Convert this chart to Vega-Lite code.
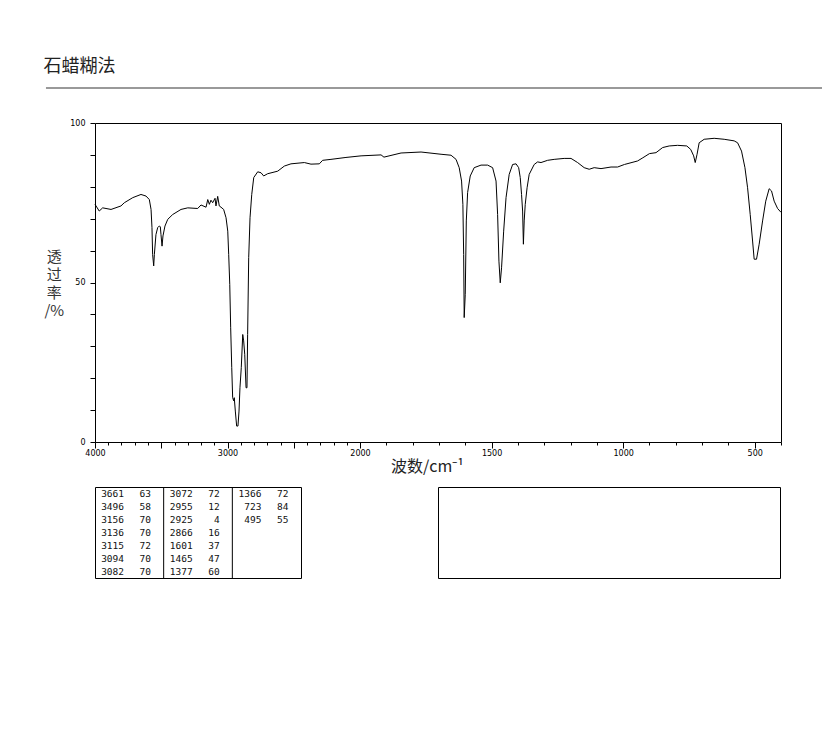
{
  "$schema": "https://vega.github.io/schema/vega-lite/v6.json",
  "background": "white",
  "padding": {"left": 43, "top": 58, "right": 0, "bottom": 0},
  "title": {"text": "石蜡糊法", "anchor": "start", "frame": "bounds", "fontSize": 18, "fontWeight": "normal", "font": "Noto Sans CJK SC", "color": "#222", "offset": 10},
  "config": {
    "view": {"stroke": "black", "strokeWidth": 1},
    "font": "DejaVu Sans",
    "axis": {"grid": false, "domain": false, "tickColor": "black", "labelColor": "black", "labelFontSize": 8, "labelFlush": false, "labelOverlap": false}
  },
  "spacing": 11,
  "vconcat": [
    {
      "width": 686,
      "height": 319,
      "layer": [
        {
          "data": {"values": [
            {"wavenumber": 4000, "transmittance": 74.5},
            {"wavenumber": 3968, "transmittance": 72.4},
            {"wavenumber": 3942, "transmittance": 73.4},
            {"wavenumber": 3879, "transmittance": 72.9},
            {"wavenumber": 3804, "transmittance": 74.0},
            {"wavenumber": 3779, "transmittance": 75.0},
            {"wavenumber": 3715, "transmittance": 76.6},
            {"wavenumber": 3653, "transmittance": 77.6},
            {"wavenumber": 3615, "transmittance": 77.1},
            {"wavenumber": 3590, "transmittance": 76.0},
            {"wavenumber": 3577, "transmittance": 72.9},
            {"wavenumber": 3570, "transmittance": 67.2},
            {"wavenumber": 3565, "transmittance": 58.8},
            {"wavenumber": 3557, "transmittance": 55.2},
            {"wavenumber": 3552, "transmittance": 58.8},
            {"wavenumber": 3540, "transmittance": 65.0},
            {"wavenumber": 3527, "transmittance": 67.2},
            {"wavenumber": 3515, "transmittance": 67.7},
            {"wavenumber": 3507, "transmittance": 67.5},
            {"wavenumber": 3502, "transmittance": 65.0},
            {"wavenumber": 3494, "transmittance": 61.4},
            {"wavenumber": 3487, "transmittance": 64.6},
            {"wavenumber": 3472, "transmittance": 67.7},
            {"wavenumber": 3451, "transmittance": 69.8},
            {"wavenumber": 3414, "transmittance": 71.3},
            {"wavenumber": 3351, "transmittance": 72.9},
            {"wavenumber": 3300, "transmittance": 73.4},
            {"wavenumber": 3225, "transmittance": 73.2},
            {"wavenumber": 3200, "transmittance": 74.3},
            {"wavenumber": 3162, "transmittance": 73.6},
            {"wavenumber": 3149, "transmittance": 76.0},
            {"wavenumber": 3137, "transmittance": 74.5},
            {"wavenumber": 3125, "transmittance": 75.8},
            {"wavenumber": 3112, "transmittance": 75.0},
            {"wavenumber": 3094, "transmittance": 76.4},
            {"wavenumber": 3087, "transmittance": 74.0},
            {"wavenumber": 3074, "transmittance": 77.0},
            {"wavenumber": 3062, "transmittance": 74.0},
            {"wavenumber": 3049, "transmittance": 73.6},
            {"wavenumber": 3029, "transmittance": 72.9},
            {"wavenumber": 3011, "transmittance": 70.3},
            {"wavenumber": 2998, "transmittance": 66.1},
            {"wavenumber": 2991, "transmittance": 58.8},
            {"wavenumber": 2983, "transmittance": 49.4},
            {"wavenumber": 2976, "transmittance": 35.8},
            {"wavenumber": 2968, "transmittance": 23.3},
            {"wavenumber": 2961, "transmittance": 13.9},
            {"wavenumber": 2953, "transmittance": 12.9},
            {"wavenumber": 2949, "transmittance": 13.9},
            {"wavenumber": 2941, "transmittance": 9.7},
            {"wavenumber": 2931, "transmittance": 5.0},
            {"wavenumber": 2921, "transmittance": 5.0},
            {"wavenumber": 2913, "transmittance": 9.7},
            {"wavenumber": 2906, "transmittance": 17.0},
            {"wavenumber": 2896, "transmittance": 23.3},
            {"wavenumber": 2885, "transmittance": 33.7},
            {"wavenumber": 2878, "transmittance": 31.7},
            {"wavenumber": 2870, "transmittance": 27.5},
            {"wavenumber": 2860, "transmittance": 17.0},
            {"wavenumber": 2853, "transmittance": 17.0},
            {"wavenumber": 2848, "transmittance": 33.7},
            {"wavenumber": 2840, "transmittance": 57.8},
            {"wavenumber": 2830, "transmittance": 70.3},
            {"wavenumber": 2817, "transmittance": 77.6},
            {"wavenumber": 2802, "transmittance": 82.9},
            {"wavenumber": 2772, "transmittance": 84.7},
            {"wavenumber": 2747, "transmittance": 84.4},
            {"wavenumber": 2727, "transmittance": 83.4},
            {"wavenumber": 2697, "transmittance": 84.1},
            {"wavenumber": 2621, "transmittance": 84.9},
            {"wavenumber": 2571, "transmittance": 86.5},
            {"wavenumber": 2521, "transmittance": 87.2},
            {"wavenumber": 2420, "transmittance": 87.6},
            {"wavenumber": 2370, "transmittance": 87.1},
            {"wavenumber": 2307, "transmittance": 87.2},
            {"wavenumber": 2282, "transmittance": 88.3},
            {"wavenumber": 2219, "transmittance": 88.6},
            {"wavenumber": 2106, "transmittance": 89.2},
            {"wavenumber": 1996, "transmittance": 89.7},
            {"wavenumber": 1920, "transmittance": 90.0},
            {"wavenumber": 1909, "transmittance": 89.3},
            {"wavenumber": 1844, "transmittance": 90.6},
            {"wavenumber": 1768, "transmittance": 90.9},
            {"wavenumber": 1692, "transmittance": 90.2},
            {"wavenumber": 1654, "transmittance": 89.9},
            {"wavenumber": 1635, "transmittance": 88.6},
            {"wavenumber": 1623, "transmittance": 86.0},
            {"wavenumber": 1614, "transmittance": 81.8},
            {"wavenumber": 1609, "transmittance": 74.5},
            {"wavenumber": 1606, "transmittance": 58.8},
            {"wavenumber": 1604, "transmittance": 39.0},
            {"wavenumber": 1600, "transmittance": 46.3},
            {"wavenumber": 1596, "transmittance": 69.3},
            {"wavenumber": 1591, "transmittance": 78.2},
            {"wavenumber": 1581, "transmittance": 83.4},
            {"wavenumber": 1566, "transmittance": 86.0},
            {"wavenumber": 1540, "transmittance": 86.8},
            {"wavenumber": 1515, "transmittance": 86.8},
            {"wavenumber": 1496, "transmittance": 86.0},
            {"wavenumber": 1483, "transmittance": 81.8},
            {"wavenumber": 1477, "transmittance": 71.3},
            {"wavenumber": 1472, "transmittance": 56.7},
            {"wavenumber": 1467, "transmittance": 49.9},
            {"wavenumber": 1462, "transmittance": 54.6},
            {"wavenumber": 1454, "transmittance": 66.1},
            {"wavenumber": 1445, "transmittance": 76.6},
            {"wavenumber": 1433, "transmittance": 83.9},
            {"wavenumber": 1420, "transmittance": 87.0},
            {"wavenumber": 1407, "transmittance": 87.2},
            {"wavenumber": 1397, "transmittance": 86.0},
            {"wavenumber": 1391, "transmittance": 82.9},
            {"wavenumber": 1386, "transmittance": 77.6},
            {"wavenumber": 1382, "transmittance": 72.4},
            {"wavenumber": 1379, "transmittance": 62.0},
            {"wavenumber": 1376, "transmittance": 69.3},
            {"wavenumber": 1372, "transmittance": 74.5},
            {"wavenumber": 1365, "transmittance": 79.7},
            {"wavenumber": 1357, "transmittance": 83.9},
            {"wavenumber": 1338, "transmittance": 87.0},
            {"wavenumber": 1325, "transmittance": 87.8},
            {"wavenumber": 1312, "transmittance": 87.6},
            {"wavenumber": 1287, "transmittance": 88.3},
            {"wavenumber": 1262, "transmittance": 88.6},
            {"wavenumber": 1224, "transmittance": 88.9},
            {"wavenumber": 1198, "transmittance": 88.9},
            {"wavenumber": 1173, "transmittance": 87.6},
            {"wavenumber": 1148, "transmittance": 86.0},
            {"wavenumber": 1129, "transmittance": 85.5},
            {"wavenumber": 1110, "transmittance": 86.0},
            {"wavenumber": 1084, "transmittance": 85.7},
            {"wavenumber": 1046, "transmittance": 86.2},
            {"wavenumber": 1021, "transmittance": 86.2},
            {"wavenumber": 995, "transmittance": 87.0},
            {"wavenumber": 945, "transmittance": 88.1},
            {"wavenumber": 925, "transmittance": 89.1},
            {"wavenumber": 900, "transmittance": 90.4},
            {"wavenumber": 875, "transmittance": 90.7},
            {"wavenumber": 850, "transmittance": 92.3},
            {"wavenumber": 825, "transmittance": 92.8},
            {"wavenumber": 793, "transmittance": 93.0},
            {"wavenumber": 758, "transmittance": 92.8},
            {"wavenumber": 743, "transmittance": 91.7},
            {"wavenumber": 732, "transmittance": 89.7},
            {"wavenumber": 726, "transmittance": 87.6},
            {"wavenumber": 719, "transmittance": 90.2},
            {"wavenumber": 711, "transmittance": 93.8},
            {"wavenumber": 692, "transmittance": 94.9},
            {"wavenumber": 654, "transmittance": 95.2},
            {"wavenumber": 616, "transmittance": 94.9},
            {"wavenumber": 578, "transmittance": 94.4},
            {"wavenumber": 565, "transmittance": 93.8},
            {"wavenumber": 550, "transmittance": 91.2},
            {"wavenumber": 537, "transmittance": 86.0},
            {"wavenumber": 527, "transmittance": 79.7},
            {"wavenumber": 517, "transmittance": 71.3},
            {"wavenumber": 508, "transmittance": 63.0},
            {"wavenumber": 502, "transmittance": 57.3},
            {"wavenumber": 493, "transmittance": 57.3},
            {"wavenumber": 483, "transmittance": 62.0},
            {"wavenumber": 470, "transmittance": 69.3},
            {"wavenumber": 458, "transmittance": 75.5},
            {"wavenumber": 445, "transmittance": 79.4},
            {"wavenumber": 436, "transmittance": 78.7},
            {"wavenumber": 426, "transmittance": 75.5},
            {"wavenumber": 413, "transmittance": 73.2},
            {"wavenumber": 400, "transmittance": 72.0}
          ]},
          "mark": {"type": "line", "color": "black", "strokeWidth": 1, "interpolate": "linear"},
          "encoding": {
            "x": {
              "field": "wavenumber", "type": "quantitative",
              "scale": {"domain": [4000, 2000, 400], "range": [0, 265, 686], "nice": false, "zero": false},
              "axis": {
                "orient": "bottom",
                "values": [4000, 3500, 3000, 2500, 2000, 1500, 1000, 500],
                "format": "d",
                "labelExpr": "datum.value == 3500 || datum.value == 2500 ? '' : datum.label",
                "tickSize": 6, "labelPadding": 1,
                "title": "波数/cm⁻¹", "titleFont": "Noto Sans CJK SC", "titleFontSize": 16, "titleFontWeight": "normal", "titleColor": "#222", "titlePadding": 1, "titleX": 332
              }
            },
            "y": {
              "field": "transmittance", "type": "quantitative",
              "scale": {"domain": [0, 100], "nice": false, "zero": false},
              "axis": {
                "orient": "left",
                "values": [0, 10, 20, 30, 40, 50, 60, 70, 80, 90, 100],
                "format": "d",
                "labelExpr": "datum.value % 50 === 0 ? datum.label : ''",
                "tickSize": 5, "labelPadding": 5,
                "title": ["透", "过", "率", "/%"], "titleAngle": 0, "titleAlign": "center", "titleBaseline": "middle",
                "titleFont": "Noto Sans CJK SC", "titleFontSize": 15, "titleFontWeight": "normal", "titleColor": "#333", "titleLineHeight": 18, "titlePadding": -38, "titleY": 133
              }
            }
          }
        },
        {
          "data": {"values": [{}]},
          "mark": {"type": "rule", "color": "#999", "strokeWidth": 2},
          "encoding": {
            "x": {
              "datum": 4370, "type": "quantitative",
              "scale": {"domain": [4000, 2000, 400], "range": [0, 265, 686], "nice": false, "zero": false},
              "axis": {
                "orient": "bottom",
                "values": [4000, 3900, 3800, 3700, 3600, 3500, 3400, 3300, 3200, 3100, 3000, 2900, 2800, 2700, 2600, 2500, 2400, 2300, 2200, 2100, 2000, 1900, 1800, 1700, 1600, 1500, 1400, 1300, 1200, 1100, 1000, 900, 800, 700, 600, 500, 400],
                "labels": false, "tickSize": 3, "title": null
              }
            },
            "x2": {"datum": 240},
            "y": {"datum": 111, "type": "quantitative", "scale": {"domain": [0, 100], "nice": false, "zero": false}, "axis": null}
          }
        }
      ],
      "resolve": {"axis": {"x": "independent", "y": "independent"}}
    },
    {
      "spacing": 135,
      "hconcat": [
        {
          "width": 206,
          "height": 91,
          "layer": [
            {
              "data": {"name": "peaks", "values": [
                {"col": 1, "row": 1, "wn": "3661", "t": "63"},
                {"col": 1, "row": 2, "wn": "3496", "t": "58"},
                {"col": 1, "row": 3, "wn": "3156", "t": "70"},
                {"col": 1, "row": 4, "wn": "3136", "t": "70"},
                {"col": 1, "row": 5, "wn": "3115", "t": "72"},
                {"col": 1, "row": 6, "wn": "3094", "t": "70"},
                {"col": 1, "row": 7, "wn": "3082", "t": "70"},
                {"col": 2, "row": 1, "wn": "3072", "t": "72"},
                {"col": 2, "row": 2, "wn": "2955", "t": "12"},
                {"col": 2, "row": 3, "wn": "2925", "t": "4"},
                {"col": 2, "row": 4, "wn": "2866", "t": "16"},
                {"col": 2, "row": 5, "wn": "1601", "t": "37"},
                {"col": 2, "row": 6, "wn": "1465", "t": "47"},
                {"col": 2, "row": 7, "wn": "1377", "t": "60"},
                {"col": 3, "row": 1, "wn": "1366", "t": "72"},
                {"col": 3, "row": 2, "wn": "723", "t": "84"},
                {"col": 3, "row": 3, "wn": "495", "t": "55"}
              ]},
              "layer": [
                {
                  "mark": {"type": "text", "align": "right", "baseline": "middle", "dx": -5.3, "font": "DejaVu Sans Mono", "fontSize": 9.5, "color": "#111"},
                  "encoding": {
                    "x": {"field": "col", "type": "ordinal", "axis": null, "scale": {"paddingInner": 0, "paddingOuter": 0}},
                    "y": {"field": "row", "type": "ordinal", "axis": null, "scale": {"paddingInner": 0, "paddingOuter": 0.23}},
                    "text": {"field": "wn", "type": "nominal"}
                  }
                },
                {
                  "mark": {"type": "text", "align": "right", "baseline": "middle", "dx": 21.7, "font": "DejaVu Sans Mono", "fontSize": 9.5, "color": "#111"},
                  "encoding": {
                    "x": {"field": "col", "type": "ordinal", "axis": null, "scale": {"paddingInner": 0, "paddingOuter": 0}},
                    "y": {"field": "row", "type": "ordinal", "axis": null, "scale": {"paddingInner": 0, "paddingOuter": 0.23}},
                    "text": {"field": "t", "type": "nominal"}
                  }
                }
              ]
            },
            {
              "data": {"values": [{"col": 2}, {"col": 3}]},
              "mark": {"type": "rule", "color": "black", "strokeWidth": 1},
              "encoding": {
                "x": {"field": "col", "type": "ordinal", "bandPosition": 0, "axis": null, "scale": {"paddingInner": 0, "paddingOuter": 0}}
              }
            }
          ]
        },
        {
          "width": 342,
          "height": 91,
          "data": {"values": [{"box": "notes"}]},
          "mark": {"type": "text", "opacity": 0},
          "encoding": {
            "x": {"field": "box", "type": "nominal", "axis": null},
            "y": {"field": "box", "type": "nominal", "axis": null},
            "text": {"field": "box", "type": "nominal"}
          }
        }
      ]
    }
  ]
}
